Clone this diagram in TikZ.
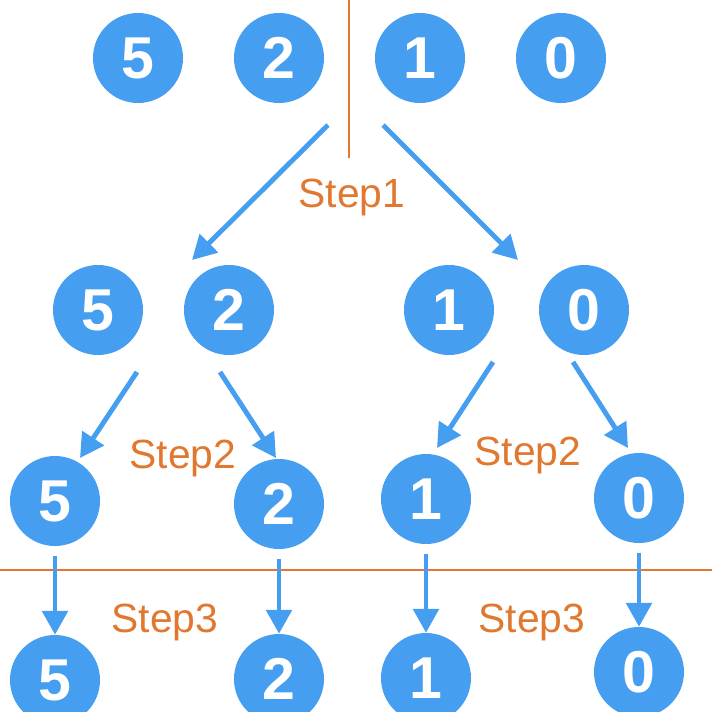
\documentclass[tikz,border=0pt]{standalone}
\usepackage{fontspec}
\setmainfont{Liberation Sans}
\usetikzlibrary{arrows.meta}
\definecolor{nodeblue}{HTML}{469EF0}
\definecolor{steporange}{HTML}{E0782F}
\begin{document}
\begin{tikzpicture}[x=0.025cm, y=-0.025cm,
    num/.style={circle, fill=nodeblue, text=white, minimum size=2.25cm, inner sep=0pt, font=\fontsize{42}{42}\selectfont\bfseries},
    steplabel/.style={anchor=base, text=steporange, font=\fontsize{29}{29}\selectfont},
    arr/.style={draw=nodeblue, line width=3.5pt, -{Triangle[length=17pt,width=18pt]}},
    vert/.style={arr, shorten <=7pt},
    divider/.style={draw=steporange, line width=2pt}]
    \clip (0,0) rectangle (712,712);

    \node[num] (t5) at (138,58) {5};
    \node[num] (t2) at (279,58) {2};
    \node[num] (t1) at (420,58) {1};
    \node[num] (t0) at (561,58) {0};

    \node[num] (m5) at (98,310) {5};
    \node[num] (m2) at (229,310) {2};
    \node[num] (m1) at (449,310) {1};
    \node[num] (m0) at (584,310) {0};

    \node[num] (s5) at (55,501) {5};
    \node[num] (s2) at (279,504) {2};
    \node[num] (s1) at (426,499) {1};
    \node[num] (s0) at (639,498) {0};

    \node[num] (b5) at (55,680) {5};
    \node[num] (b2) at (279,679) {2};
    \node[num] (b1) at (426,678) {1};
    \node[num] (b0) at (639,672) {0};

    \node[steplabel] (step1) at (352,207) {Step1};
    \node[steplabel] (step2l) at (183,468) {Step2};
    \node[steplabel] (step2r) at (528,465) {Step2};
    \node[steplabel] (step3l) at (165,632) {Step3};
    \node[steplabel] (step3r) at (532,632) {Step3};

    \coordinate (split1l) at (328,125);
    \coordinate (split1r) at (383,125);
    \coordinate (half1l) at (192,260);
    \coordinate (half1r) at (518,260);
    \coordinate (split2a) at (137,372);
    \coordinate (split2b) at (220,372);
    \coordinate (split2c) at (493,362);
    \coordinate (split2d) at (573,362);
    \coordinate (leaf5) at (80,458);
    \coordinate (leaf2) at (276,458);
    \coordinate (leaf1) at (437,448);
    \coordinate (leaf0) at (628,448);

    \draw[divider] (349,0) -- (349,158);
    \draw[divider] (0,570) -- (712,570);

    \draw[arr] (split1l) -- (half1l);
    \draw[arr] (split1r) -- (half1r);
    \draw[arr] (split2a) -- (leaf5);
    \draw[arr] (split2b) -- (leaf2);
    \draw[arr] (split2c) -- (leaf1);
    \draw[arr] (split2d) -- (leaf0);

    \draw[vert] (s5.south) -- (b5.north);
    \draw[vert] (s2.south) -- (b2.north);
    \draw[vert] (s1.south) -- (b1.north);
    \draw[vert] (s0.south) -- (b0.north);
\end{tikzpicture}
\end{document}
